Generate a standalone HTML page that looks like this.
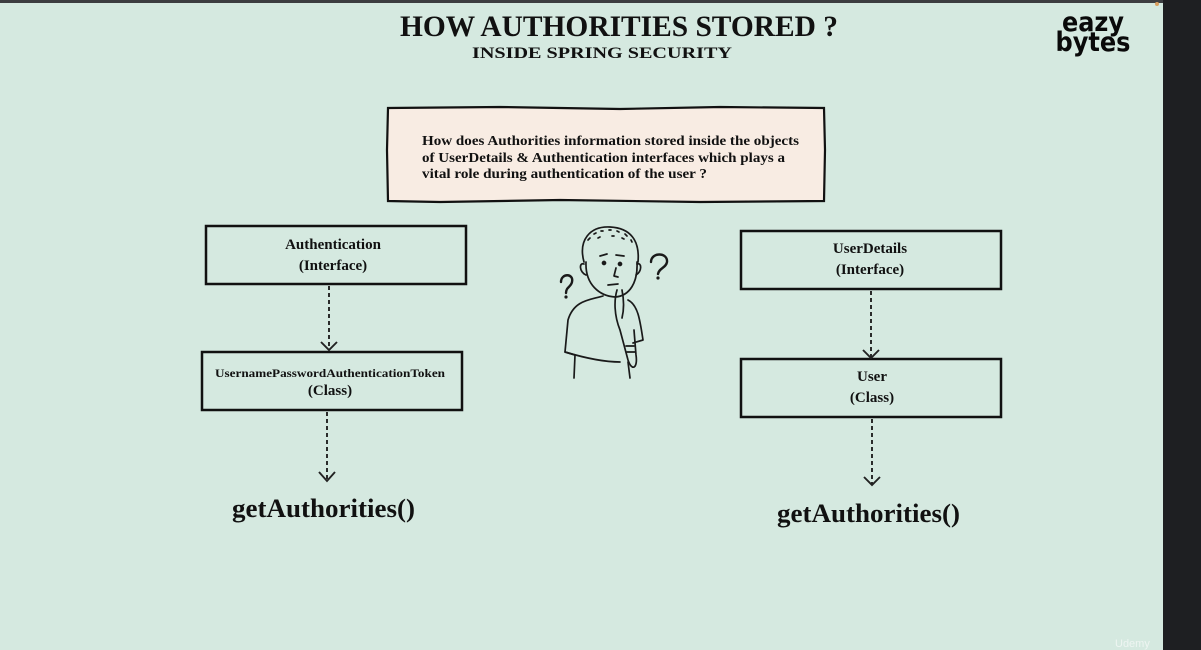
<!DOCTYPE html>
<html><head><meta charset="utf-8"><style>
html,body{margin:0;padding:0;background:#d5e9e0;}
svg{display:block}
.s{font-family:"Liberation Serif",serif;font-weight:bold;fill:#111}
</style></head><body>
<svg width="1201" height="650" viewBox="0 0 1201 650" xmlns="http://www.w3.org/2000/svg">
<rect x="0" y="0" width="1201" height="650" fill="#d5e9e0"/>
<rect x="0" y="0" width="1201" height="3" fill="#3c3d40"/>
<rect x="1163" y="0" width="38" height="650" fill="#1e1f22"/>
<circle cx="1157" cy="4" r="2" fill="#d9a060"/>

<text class="s" x="400" y="36" font-size="30" textLength="438" lengthAdjust="spacingAndGlyphs">HOW AUTHORITIES STORED ?</text>
<text class="s" x="472" y="58" font-size="16" textLength="260" lengthAdjust="spacingAndGlyphs">INSIDE SPRING SECURITY</text>

<text x="1093" y="31" font-family="DejaVu Sans" font-weight="bold" font-size="27" text-anchor="middle" fill="#0a0a0a" textLength="62" lengthAdjust="spacingAndGlyphs">eazy</text>
<text x="1093" y="51" font-family="DejaVu Sans" font-weight="bold" font-size="27" text-anchor="middle" fill="#0a0a0a" textLength="75" lengthAdjust="spacingAndGlyphs">bytes</text>

<path d="M388 108 L500 107 L620 109 L720 107 L824 108 L825 150 L824 201 L700 202 L560 200 L440 202 L388 201 L387 150 Z" fill="#f8ece3" stroke="#111" stroke-width="2.2"/>
<text class="s" x="422" y="145" font-size="13.5" textLength="377" lengthAdjust="spacingAndGlyphs">How does Authorities information stored inside the objects</text>
<text class="s" x="422" y="162" font-size="13.5" textLength="363" lengthAdjust="spacingAndGlyphs">of  UserDetails &amp; Authentication interfaces which plays a</text>
<text class="s" x="422" y="178" font-size="13.5" textLength="285" lengthAdjust="spacingAndGlyphs">vital role during authentication of  the user ?</text>

<g fill="none" stroke="#111" stroke-width="2.5">
<rect x="206" y="226" width="260" height="58"/>
<rect x="202" y="352" width="260" height="58"/>
<rect x="741" y="231" width="260" height="58"/>
<rect x="741" y="359" width="260" height="58"/>
</g>
<g fill="none" stroke="#222" stroke-width="1.9">
<line x1="329" y1="286" x2="329" y2="350" stroke-dasharray="4,3"/>
<polyline points="321,342 329,350 337,342"/>
<line x1="327" y1="412" x2="327" y2="480" stroke-dasharray="4,3"/>
<polyline points="319,472 327,481 335,472"/>
<line x1="871" y1="291" x2="871" y2="357" stroke-dasharray="4,3"/>
<polyline points="863,350 871,358 879,350"/>
<line x1="872" y1="419" x2="872" y2="485" stroke-dasharray="4,3"/>
<polyline points="864,477 872,485 880,477"/>
</g>

<text class="s" x="333" y="249" font-size="15" text-anchor="middle">Authentication</text>
<text class="s" x="333" y="270" font-size="15" text-anchor="middle">(Interface)</text>
<text class="s" x="330" y="377" font-size="12" text-anchor="middle" textLength="230" lengthAdjust="spacingAndGlyphs">UsernamePasswordAuthenticationToken</text>
<text class="s" x="330" y="395" font-size="15" text-anchor="middle">(Class)</text>
<text class="s" x="870" y="253" font-size="15" text-anchor="middle">UserDetails</text>
<text class="s" x="870" y="274" font-size="15" text-anchor="middle">(Interface)</text>
<text class="s" x="872" y="381" font-size="15" text-anchor="middle">User</text>
<text class="s" x="872" y="402" font-size="15" text-anchor="middle">(Class)</text>

<text class="s" x="232" y="517" font-size="26" textLength="183" lengthAdjust="spacingAndGlyphs">getAuthorities()</text>
<text class="s" x="777" y="522" font-size="26" textLength="183" lengthAdjust="spacingAndGlyphs">getAuthorities()</text>

<g fill="none" stroke="#1a1a1a" stroke-width="1.7" stroke-linecap="round" stroke-linejoin="round">
<path d="M584 262 C578 240 590 226 610 227 C630 228 640 240 638 262"/>
<path d="M588 240 l2 -2 M594 234 l2 -1 M601 231 l2 0 M609 230 l2 0 M617 231 l2 1 M625 234 l2 2 M631 240 l1 2 M598 238 l2 -1 M612 236 l2 0 M622 238 l2 1"/>
<path d="M586 262 C585 285 600 296 615 297 C630 296 638 282 637 262"/>
<path d="M584 264 C579 262 579 272 586 275"/>
<path d="M637 264 C642 262 642 272 636 275"/>
<circle cx="604" cy="263" r="1.5" fill="#1a1a1a"/>
<circle cx="620" cy="264" r="1.5" fill="#1a1a1a"/>
<path d="M600 256 L607 254 M616 255 L624 256"/>
<path d="M616 268 L614 276 L618 277"/>
<path d="M608 285 L618 284"/>
<path d="M603 296 C590 300 574 300 568 320 L565 352 L575 355"/>
<path d="M565 352 C585 358 605 362 620 362"/>
<path d="M617 290 C614 300 614 315 620 330 L628 360 C632 372 638 368 636 355 L634 330"/>
<path d="M622 290 C624 300 624 310 622 318"/>
<path d="M628 300 C638 305 640 320 643 340 L633 343"/>
<path d="M575 355 L574 378 M628 362 L630 378"/>
<path d="M626 346 L634 346 M627 352 L635 352"/>
</g>
<g fill="none" stroke="#1a1a1a" stroke-width="2.4" stroke-linecap="round">
<path d="M561 282 C561 273 574 273 572 282 C571 287 566 287 566 293"/>
<path d="M651 262 C651 252 668 252 667 262 C666 268 659 268 658 274"/>
</g>
<circle cx="566" cy="297" r="1.6" fill="#1a1a1a"/>
<circle cx="658" cy="278" r="1.6" fill="#1a1a1a"/>

<text x="1115" y="647" font-family="Liberation Sans" font-size="11" fill="#eef5f2">Udemy</text>
</svg>
</body></html>
